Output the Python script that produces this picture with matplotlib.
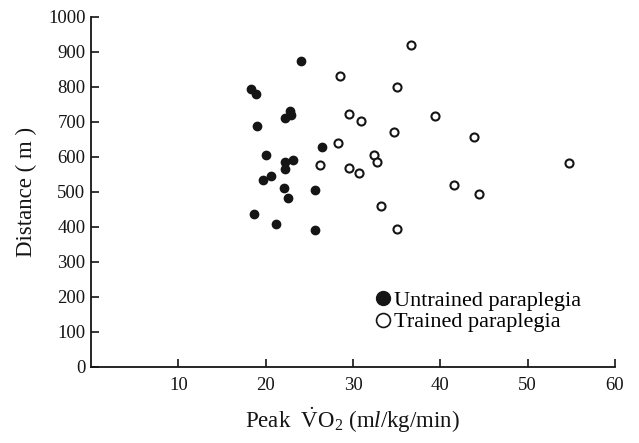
import matplotlib
matplotlib.use("Agg")
import matplotlib.pyplot as plt
from matplotlib.lines import Line2D

plt.rcParams['font.family'] = ['Liberation Serif', 'DejaVu Serif']
plt.rcParams['mathtext.fontset'] = 'custom'
plt.rcParams['mathtext.rm'] = 'Liberation Serif'
plt.rcParams['mathtext.it'] = 'Liberation Serif:italic'

# Untrained paraplegia (filled)
untrained_vo2 = [24.0, 18.3, 18.9, 22.8, 22.9, 22.2, 19.0, 26.4, 20.0, 22.2, 23.1,
                 22.2, 20.6, 19.7, 22.1, 22.6, 25.6, 18.7, 21.2, 25.7]
untrained_dist = [874, 794, 778, 730, 718, 710, 687, 627, 604, 585, 591,
                  564, 546, 534, 510, 483, 504, 436, 409, 390]

# Trained paraplegia (open)
trained_vo2 = [36.6, 28.5, 35.0, 39.4, 29.5, 30.9, 34.7, 28.3, 32.4, 32.7, 26.2,
               29.6, 30.7, 33.2, 35.0, 43.9, 54.7, 41.6, 44.4]
trained_dist = [919, 829, 798, 717, 722, 702, 671, 640, 604, 585, 575,
                569, 553, 459, 393, 655, 581, 518, 493]

x_ticks = [10, 20, 30, 40, 50, 60]
y_ticks = [0, 100, 200, 300, 400, 500, 600, 700, 800, 900, 1000]

ink = '#151515'

fig = plt.figure(figsize=(6.39, 4.43), dpi=100)
ax = fig.add_axes([0.1424, 0.1716, 0.820, 0.791])

ax.plot(untrained_vo2, untrained_dist, 'o', ms=6.0, color=ink, mec=ink,
        linestyle='none')
ax.plot(trained_vo2, trained_dist, 'o', ms=5.8, mfc='white', mec=ink, mew=1.5,
        linestyle='none')

ax.set_xlim(0, 60)
ax.set_ylim(0, 1000)
ax.set_xticks(x_ticks)
ax.set_yticks(y_ticks)
for s in ['top', 'right']:
    ax.spines[s].set_visible(False)
for s in ['left', 'bottom']:
    ax.spines[s].set_linewidth(1.3)
    ax.spines[s].set_color(ink)
ax.tick_params(direction='in', length=6, width=1.2, colors=ink, labelsize=13.5)
ax.tick_params(axis='x', pad=7)
ax.tick_params(axis='y', pad=4)

ax.set_ylabel('Distance ( m )', fontsize=16.5, color=ink, labelpad=8)
ax.set_xlabel(r'Peak  $\dot{\mathrm{V}}\mathrm{O}_2$ (m$\mathit{l}$/kg/min)',
              fontsize=16.5, color=ink, labelpad=9)

handles = [
    Line2D([], [], marker='o', ls='none', ms=10, color=ink, mec=ink,
           label='Untrained paraplegia'),
    Line2D([], [], marker='o', ls='none', ms=10, mfc='white', mec=ink, mew=1.2,
           label='Trained paraplegia'),
]
ax.legend(handles=handles, loc='upper left', bbox_to_anchor=(0.582, 0.345),
          bbox_transform=fig.transFigure, frameon=False, fontsize=16,
          handletextpad=0.0, handlelength=1.0, labelspacing=0.05,
          borderaxespad=0, borderpad=0)

fig.savefig('out.png', dpi=100)
